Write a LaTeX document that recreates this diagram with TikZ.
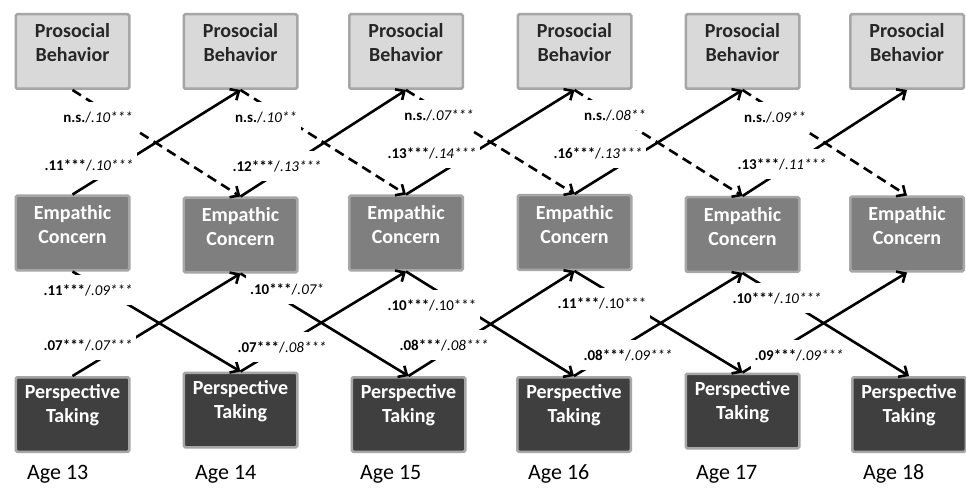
\documentclass[tikz,border=0pt]{standalone}
\usepackage{fontspec}
\setmainfont{Carlito}
\usetikzlibrary{arrows.meta}
\definecolor{pbfill}{HTML}{D9D9D9}
\definecolor{ecfill}{HTML}{7F7F7F}
\definecolor{ptfill}{HTML}{3F3F3F}
\definecolor{boxline}{HTML}{A6A6A6}
\definecolor{pbtext}{HTML}{262626}
\begin{document}
\begin{tikzpicture}[x=1pt,y=-1pt,
  box/.style={draw=boxline, line width=2.5pt, minimum width=113.5pt, minimum height=74.5pt, inner sep=0pt, rounded corners=1.5pt},
  pbbox/.style={box, fill=pbfill},
  ecbox/.style={box, fill=ecfill},
  ptbox/.style={box, fill=ptfill},
  btext/.style={font=\fontsize{20}{24}\selectfont\bfseries, align=center, inner sep=0pt},
  lab/.style={fill=white, font=\fontsize{15}{18}\selectfont, inner xsep=4pt, inner ysep=0pt, minimum height=30pt},
  conn/.style={line width=2.6pt, -{Straight Barb[length=7pt,width=13pt]}},
  dconn/.style={conn, dash pattern=on 10pt off 6pt},
  agelab/.style={font=\fontsize{22}{26}\selectfont, anchor=west, inner sep=0pt}]
\useasboundingbox (0,0) rectangle (966,489);
\fill[white] (0,0) rectangle (966,489);

\foreach \i/\x/\ecy/\ptx/\pty/\agex in {1/72.5/233/72.5/414.5/27, 2/240.5/235/240.5/410/195, 3/406/233/408.5/414.5/360, 4/574.5/232.5/574/414.5/528, 5/742.5/234.5/742.5/411/696, 6/907/234/909/414.5/863} {
  \node[pbbox] (pb\i) at (\x,51.5) {};
  \node[btext, text=pbtext] (pbt\i) at ([yshift=9pt]pb\i.center) {Prosocial\\Behavior};
  \node[ecbox] (ec\i) at (\x,\ecy) {};
  \node[btext, text=white] (ect\i) at ([yshift=8pt]ec\i.center) {Empathic\\Concern};
  \node[ptbox] (pt\i) at (\ptx,\pty) {};
  \node[btext, text=white] (ptt\i) at ([yshift=9pt]pt\i.center) {Perspective\\Taking};
  \node[agelab] (age\i) at (\agex,474) {Age 1\the\numexpr\i+2\relax};
}

\foreach \i in {1,...,5} {
  \pgfmathtruncatemacro{\j}{\i+1}
  \draw[dconn] (pb\i.south) -- (ec\j.north);
  \draw[conn] (ec\i.north) -- (pb\j.south);
  \draw[conn] (ec\i.south) -- (pt\j.north);
  \draw[conn] (pt\i.north) -- (ec\j.south);
}

% dashed PB -> EC labels
\node[lab] (ns1) at (98,117) {\textbf{n.s.}/\textit{.10***}};
\node[lab] (ns2) at (266,117) {\textbf{n.s.}/\textit{.10**}};
\node[lab] (ns3) at (439,115) {\textbf{n.s.}/\textit{.07***}};
\node[lab] (ns4) at (615,115) {\textbf{n.s.}/\textit{.08**}};
\node[lab] (ns5) at (775,117) {\textbf{n.s.}/\textit{.09**}};
% solid EC -> PB labels
\node[lab] (ep1) at (89,165) {\textbf{.11***}/\textit{.10***}};
\node[lab] (ep2) at (277,166) {\textbf{.12***}/\textit{.13***}};
\node[lab] (ep3) at (432,153) {\textbf{.13***}/\textit{.14***}};
\node[lab] (ep4) at (598,153) {\textbf{.16***}/\textit{.13***}};
\node[lab] (ep5) at (782,164) {\textbf{.13***}/\textit{.11***}};
% EC -> PT labels
\node[lab] (et1) at (88,290) {\textbf{.11***}/\textit{.09***}};
\node[lab] (et2) at (287,289) {\textbf{.10***}/\textit{.07*}};
\node[lab] (et3) at (432,305) {\textbf{.10***}/.10***};
\node[lab] (et4) at (602,303) {\textbf{.11***}/.10***};
\node[lab] (et5) at (777,298) {\textbf{.10***}/\textit{.10***}};
% PT -> EC labels
\node[lab] (te1) at (88,345) {\textbf{.07***}/\textit{.07***}};
\node[lab] (te2) at (282,347) {\textbf{.07***}/\textit{.08***}};
\node[lab] (te3) at (444,345) {\textbf{.08***}/\textit{.08***}};
\node[lab] (te4) at (628,355) {\textbf{.08***}/\textit{.09***}};
\node[lab] (te5) at (799,355) {\textbf{.09***}/\textit{.09***}};
\end{tikzpicture}
\end{document}
